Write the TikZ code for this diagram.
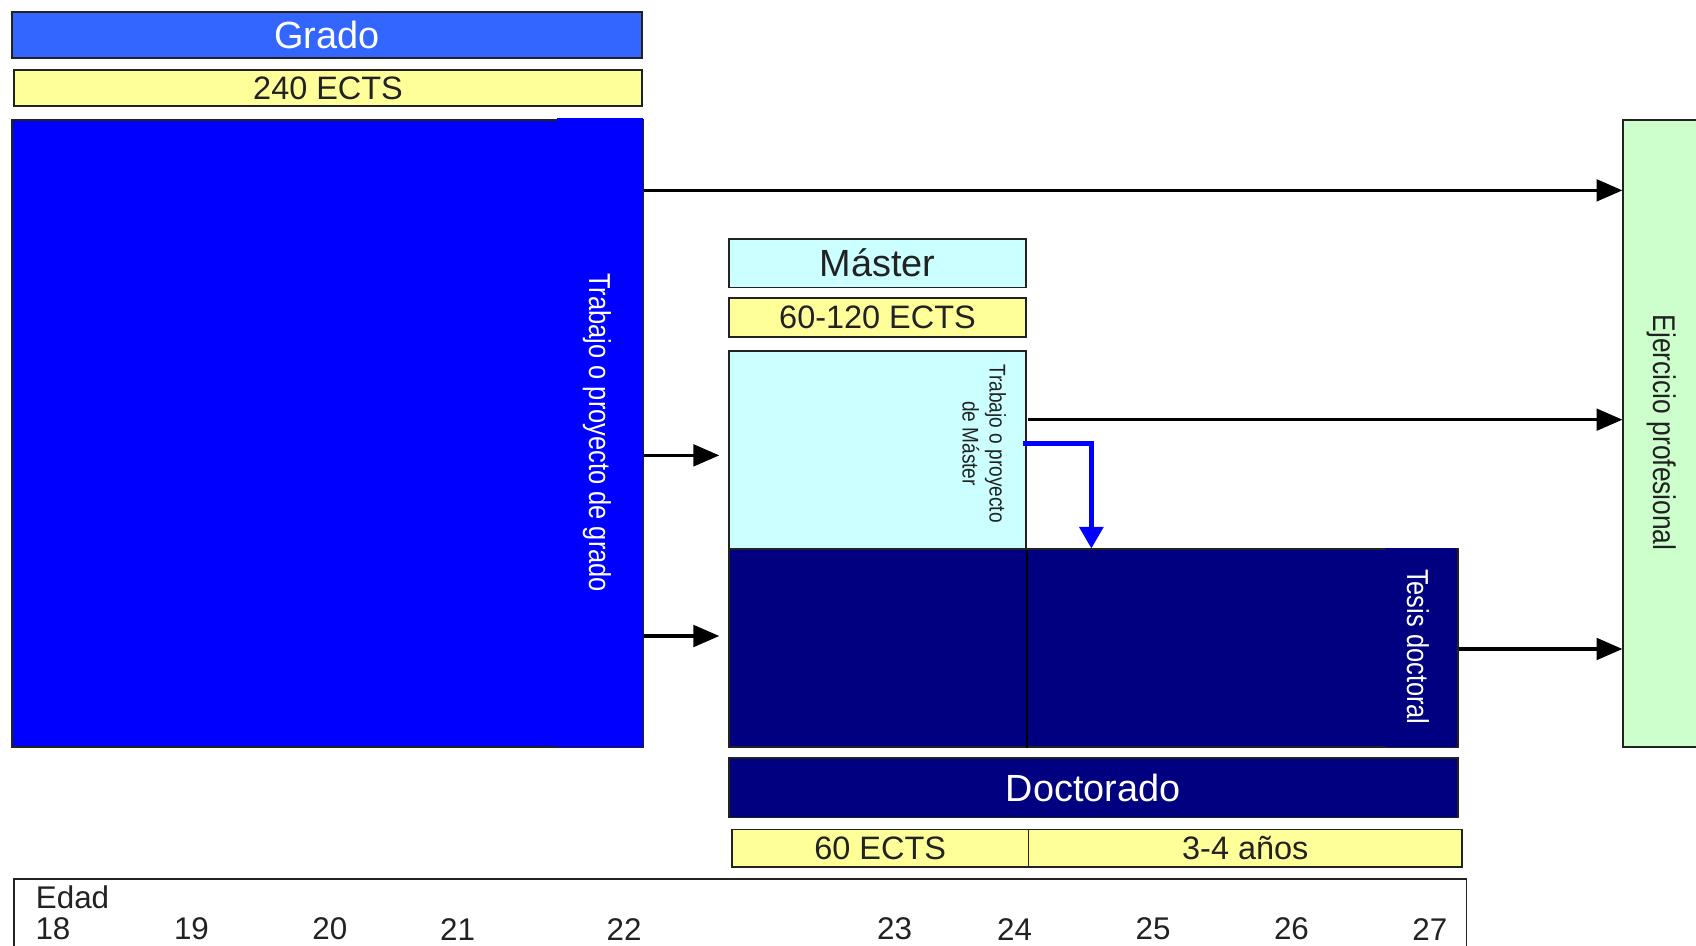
\documentclass[tikz,border=0pt]{standalone}
\usepackage{fontspec}
\setmainfont{Liberation Sans}
\newfontfamily\narrowf[FakeStretch=0.84]{Liberation Sans}
\usetikzlibrary{arrows.meta}
\definecolor{hdrblue}{HTML}{3366FF}
\definecolor{pureblue}{HTML}{0000FF}
\definecolor{ectsyellow}{HTML}{FFFF99}
\definecolor{lightcyan}{HTML}{CCFFFF}
\definecolor{navy}{HTML}{000080}
\definecolor{lightgreen}{HTML}{CCFFCC}
\definecolor{ink}{HTML}{222222}
\tikzset{
  box/.style={draw=ink, line width=1.6pt, rectangle, inner sep=0pt, anchor=north west},
  hdr/.style={box, font=\fontsize{35}{40}\selectfont},
  ects/.style={box, fill=ectsyellow, text=ink, font=\fontsize{30}{34}\selectfont},
  vlabel/.style={rotate=-90, font=\narrowf\fontsize{28}{32}\selectfont, inner sep=0pt},
  age/.style={font=\fontsize{29}{32}\selectfont, text=ink, inner sep=0pt},
  arr/.style={draw=black, line width=3pt, -{Triangle[length=24pt,width=20pt]}},
  barr/.style={draw=pureblue, line width=4pt, -{Triangle[length=20pt,width=22pt]}}
}
\begin{document}
\begin{tikzpicture}[x=1pt,y=-1pt]
\useasboundingbox (0,0) rectangle (1568,873.7);
% Grado
\node[hdr, fill=hdrblue, text=white, minimum width=583, minimum height=43] (grado) at (10,10) {Grado};
\node[ects, minimum width=581, minimum height=33] (ects240) at (12,64) {240 ECTS};
\node[box, fill=pureblue, minimum width=584, minimum height=580] (gbody) at (10,110) {};
\fill[pureblue] (515,109.2) rectangle (594.8,690.8);
\node[vlabel, text=white] (tfg) at (552,400) {Trabajo o proyecto de grado};
% Master
\node[hdr, fill=lightcyan, text=ink, minimum width=275, minimum height=45] (master) at (673,220) {Máster};
\node[ects, minimum width=275, minimum height=36] (ects60120) at (673,275) {60-120 ECTS};
\node[box, fill=lightcyan, minimum width=275, minimum height=183] (mbody) at (673,324) {};
\node[rotate=-90, font=\narrowf\fontsize{21}{25}\selectfont, text=ink, align=center, inner sep=0pt] (tfm) at (910,410) {Trabajo o proyecto\\de Máster};
% Doctorado
\node[box, fill=navy, minimum width=674, minimum height=183] (dbody) at (673,507) {};
\fill[navy] (1280,506.2) rectangle (1346.2,690.8);
\draw[draw=black, line width=1.6pt] (mbody.south east) -- (mbody.south east |- dbody.south);
\node[vlabel, text=white] (tesis) at (1311,598) {Tesis doctoral};
\node[hdr, fill=navy, text=white, minimum width=674, minimum height=55] (doct) at (673,700) {Doctorado};
\node[ects, minimum width=274, minimum height=35] (ects60) at (676,766) {60 ECTS};
\node[ects, minimum width=401, minimum height=35] (anos) at (950,766) {3-4 años};
% Ejercicio profesional
\node[box, fill=lightgreen, minimum width=80, minimum height=580] (ejer) at (1500,110) {};
\node[vlabel, text=ink, font=\narrowf\fontsize{29}{32}\selectfont] (ejtext) at (1536,400) {Ejercicio profesional};
% Edad
\node[box, minimum width=1343, minimum height=70] (edad) at (12,812) {};
\node[age, anchor=west] (edadlbl) at (33,830) {Edad};
\node[age] (a18) at (49,859) {18};
\node[age] (a19) at (177,859) {19};
\node[age] (a20) at (305,859) {20};
\node[age] (a21) at (423,859) {21};
\node[age] (a22) at (577,859) {22};
\node[age] (a23) at (827,859) {23};
\node[age] (a24) at (938,859) {24};
\node[age] (a25) at (1066,859) {25};
\node[age] (a26) at (1194,859) {26};
\node[age] (a27) at (1322,859) {27};
% connectors
\coordinate (gA) at (gbody.east |- 0,176);
\coordinate (gB) at (gbody.east |- 0,421);
\coordinate (gC) at (gbody.east |- 0,588);
\coordinate (mA) at (665,421);
\coordinate (mB) at (665,588);
\coordinate (mR) at (950,388);
\coordinate (dR) at (dbody.east |- 0,600);
\draw[arr] (gA) -- (ejer.west |- gA);
\draw[arr] (gB) -- (mA);
\draw[arr] (gC) -- (mB);
\draw[arr] (mR) -- (ejer.west |- mR);
\draw[arr] (dR) -- (ejer.west |- dR);
\coordinate (bS) at (946,410);
\coordinate (bK) at (1009,410);
\draw[barr] (bS) -- (bK) -- (bK |- dbody.north);
\end{tikzpicture}
\end{document}
